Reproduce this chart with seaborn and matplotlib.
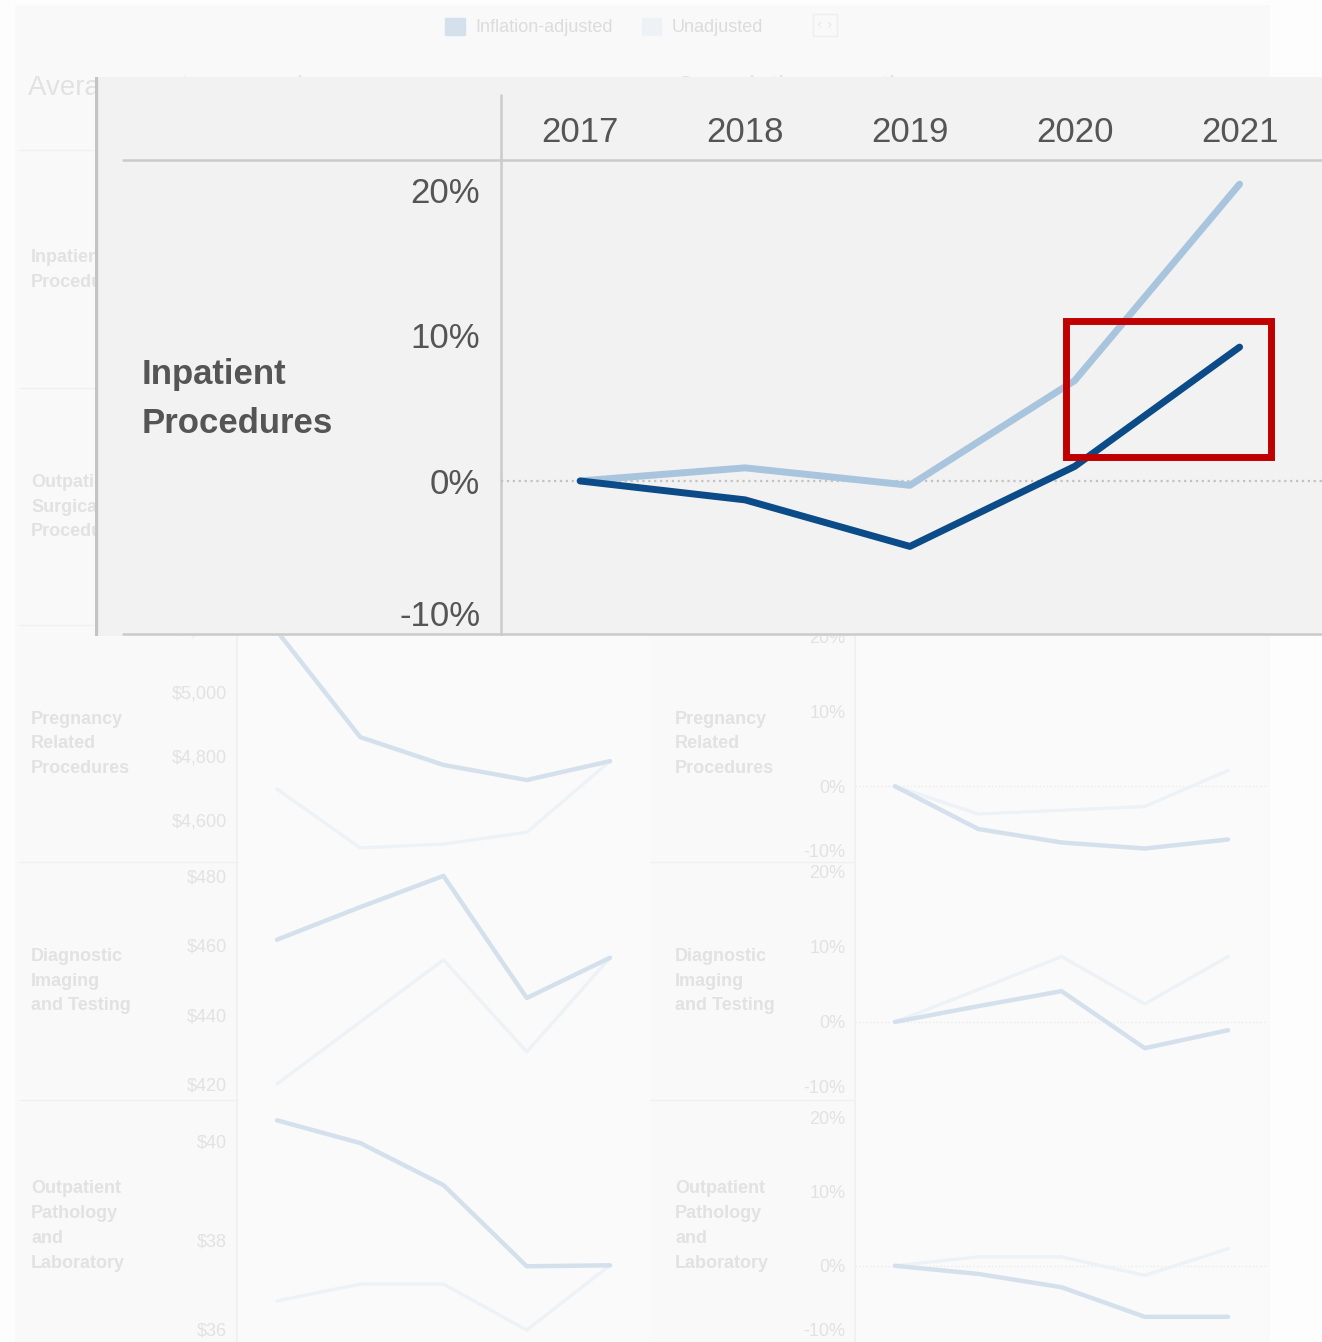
import pandas as pd
import matplotlib.pyplot as plt
import seaborn as sns
from matplotlib.patches import Patch, Rectangle

sns.set_theme(style="white")
plt.rcParams['font.family'] = ['Liberation Sans', 'DejaVu Sans']

# ---- data ----
years = [2017, 2018, 2019, 2020, 2021]
series_names = ["Inflation-adjusted", "Unadjusted"]

# highlighted panel: Inpatient Procedures, cumulative growth (%)
inpatient_growth_adj = [0.0, -1.3, -4.5, 1.0, 9.2]
inpatient_growth_unadj = [0.0, 0.9, -0.3, 6.9, 20.4]

# faded dashboard rows
preg_cost_adj = [5190, 4859, 4772, 4725, 4784]
preg_cost_unadj = [4697, 4513, 4525, 4562, 4784]
preg_growth_adj = [0.0, -5.7, -7.5, -8.3, -7.1]
preg_growth_unadj = [0.0, -3.7, -3.2, -2.7, 2.1]

diag_cost_adj = [461.6, 471.0, 480.0, 444.8, 456.4]
diag_cost_unadj = [420.0, 437.9, 455.8, 429.3, 456.4]
diag_growth_adj = [0.0, 2.1, 4.1, -3.5, -1.1]
diag_growth_unadj = [0.0, 4.3, 8.7, 2.4, 8.7]

path_cost_adj = [40.42, 39.96, 39.11, 37.47, 37.49]
path_cost_unadj = [36.77, 37.11, 37.11, 36.18, 37.49]
path_growth_adj = [0.0, -1.1, -2.9, -6.9, -6.9]
path_growth_unadj = [0.0, 1.2, 1.2, -1.3, 2.3]

row_labels = ["Inpatient\nProcedures", "Outpatient\nSurgical\nProcedures",
              "Pregnancy\nRelated\nProcedures", "Diagnostic\nImaging\nand Testing",
              "Outpatient\nPathology\nand\nLaboratory"]

# colours
ADJ_DARK = "#0b4b88"
UNADJ_DARK = "#a9c5de"
ADJ_FAINT = "#d4e1ed"
UNADJ_FAINT = "#edf2f7"
FAINT_TEXT = "#e2e2e2"
DARK_TEXT = "#555555"

W, H = 1322, 1342
fig = plt.figure(figsize=(W / 100, H / 100), dpi=100, facecolor="#fdfdfd")


def rect(x0, y0, x1, y1):
    return [x0 / W, 1 - y1 / H, (x1 - x0) / W, (y1 - y0) / H]


# ---- page layer (faded dashboard) ----
page = fig.add_axes([0, 0, 1, 1], zorder=-1)
page.set_xlim(0, W)
page.set_ylim(H, 0)
page.axis("off")
page.add_patch(Rectangle((15, 5), 1255, 1337, color="#f9f9f9", lw=0))
for y in [150, 388, 625, 862, 1100]:
    page.plot([20, 1268], [y, y], color="#f0f0f0", lw=1)
page.text(28, 88, "Average cost per service", fontsize=20, color=FAINT_TEXT, va="center")
page.text(675, 88, "Cumulative growth", fontsize=20, color=FAINT_TEXT, va="center")
page.text(825, 25, "\u2039 \u203a", fontsize=10, color="#e6e6e6", ha="center", va="center",
          family="DejaVu Sans",
          bbox=dict(boxstyle="square,pad=0.3", fc="none", ec="#eeeeee"))

label_y = [270, 507, 744, 981, 1226]
for lab, y in zip(row_labels, label_y):
    page.text(31, y, lab, fontsize=13, fontweight="bold", color=FAINT_TEXT,
              va="center", linespacing=1.6)
    page.text(675, y, lab, fontsize=13, fontweight="bold", color=FAINT_TEXT,
              va="center", linespacing=1.6)

fig.legend(handles=[Patch(color=ADJ_FAINT), Patch(color=UNADJ_FAINT)], labels=series_names,
           loc="center", bbox_to_anchor=(604 / W, 1 - 27 / H), ncol=2, frameon=False,
           fontsize=13, handlelength=1.1, handleheight=1.1, handletextpad=0.55,
           columnspacing=1.6, labelcolor="#dcdcdc")


def small_panel(box, adj, unadj, ticks, labels, ylim, zero=False):
    ax = fig.add_axes(rect(*box), zorder=1)
    ax.set_facecolor("#fafafa")
    if zero:
        ax.axhline(0, color="#ececec", lw=1, ls=":")
    sns.lineplot(x=years, y=unadj, color=UNADJ_FAINT, lw=2.4, ax=ax)
    sns.lineplot(x=years, y=adj, color=ADJ_FAINT, lw=3.2, ax=ax)
    ax.set_xlim(2016.52, 2021.48)
    ax.set_ylim(*ylim)
    ax.set_xticks([])
    ax.set_yticks(ticks)
    ax.set_yticklabels(labels)
    ax.tick_params(axis="y", length=0, pad=7, labelsize=13, labelcolor=FAINT_TEXT)
    for s in ["top", "bottom", "right"]:
        ax.spines[s].set_visible(False)
    ax.spines["left"].set_color("#f0f0f0")
    ax.set_xlabel("")
    ax.set_ylabel("")
    # edge labels are nudged inside the cell
    tl = ax.get_yticklabels()
    if ticks[0] - ylim[0] < 0.06 * (ylim[1] - ylim[0]):
        tl[0].set_va("bottom")
    return ax


pct_ticks = [-10, 0, 10, 20]
pct_labels = ["-10%", "0%", "10%", "20%"]

small_panel((237, 625, 650, 862), preg_cost_adj, preg_cost_unadj,
            [4600, 4800, 5000, 5200], ["$4,600", "$4,800", "$5,000", "$5,200"], (4469, 5209))
small_panel((855, 625, 1268, 862), preg_growth_adj, preg_growth_unadj,
            pct_ticks, pct_labels, (-10.1, 21.5), zero=True)
small_panel((237, 862, 650, 1100), diag_cost_adj, diag_cost_unadj,
            [420, 440, 460, 480], ["$420", "$440", "$460", "$480"], (415.4, 484.0))
small_panel((855, 862, 1268, 1100), diag_growth_adj, diag_growth_unadj,
            pct_ticks, pct_labels, (-10.4, 21.3), zero=True)
small_panel((237, 1100, 650, 1342), path_cost_adj, path_cost_unadj,
            [36, 38, 40], ["$36", "$38", "$40"], (35.94, 40.83))
small_panel((855, 1100, 1268, 1342), path_growth_adj, path_growth_unadj,
            pct_ticks, pct_labels, (-10.3, 22.4), zero=True)

# ---- zoomed overlay ----
frame = fig.add_axes(rect(95, 77, 1322, 636), zorder=10)
frame.set_facecolor("#f2f2f2")
frame.set_xlim(95, 1322)
frame.set_ylim(636, 77)
frame.axis("off")
frame.add_patch(Rectangle((95, 77), 1227, 559, color="#f2f2f2", lw=0))
frame.plot([96, 96], [77, 636], color="#c4c4c4", lw=2.4)
frame.plot([123, 1322], [160, 160], color="#cbcbcb", lw=1.8)
frame.plot([123, 1322], [634, 634], color="#cbcbcb", lw=1.8)
frame.plot([501, 501], [95, 636], color="#cbcbcb", lw=1.8)
frame.text(142, 399, row_labels[0], fontsize=25, fontweight="bold", color=DARK_TEXT,
           va="center", linespacing=1.6)

ax = fig.add_axes(rect(501, 160, 1322, 634), zorder=11)
ax.set_facecolor("none")
df = pd.DataFrame({"year": years * 2,
                   "growth": inpatient_growth_adj + inpatient_growth_unadj,
                   "series": [series_names[0]] * 5 + [series_names[1]] * 5})
ax.axhline(0, color="#c2c2c2", lw=1.6, ls=":")
sns.lineplot(data=df[df.series == "Unadjusted"], x="year", y="growth",
             color=UNADJ_DARK, lw=5, ax=ax)
sns.lineplot(data=df[df.series == "Inflation-adjusted"], x="year", y="growth",
             color=ADJ_DARK, lw=5, ax=ax)
ax.set_xlim(2016.52, 2021.50)
ax.set_ylim(-10.52, 22.06)
ax.xaxis.tick_top()
ax.set_xticks(years)
ax.set_xticklabels([str(y) for y in years])
ax.set_yticks(pct_ticks)
ax.set_yticklabels(pct_labels)
ax.tick_params(axis="x", length=0, pad=8, labelsize=25, labelcolor=DARK_TEXT)
ax.tick_params(axis="y", length=0, pad=15, labelsize=25, labelcolor=DARK_TEXT)
ax.get_yticklabels()[0].set_va("baseline")
for s in ax.spines.values():
    s.set_visible(False)
ax.set_xlabel("")
ax.set_ylabel("")

# highlight box around the 2020-2021 inflation-adjusted rise
ax.add_patch(Rectangle((2019.95, 1.62), 1.24, 9.34, fill=False, ec="#c00000",
                       lw=5, clip_on=False, zorder=5))

fig.savefig("out.png", dpi=100, facecolor=fig.get_facecolor())
